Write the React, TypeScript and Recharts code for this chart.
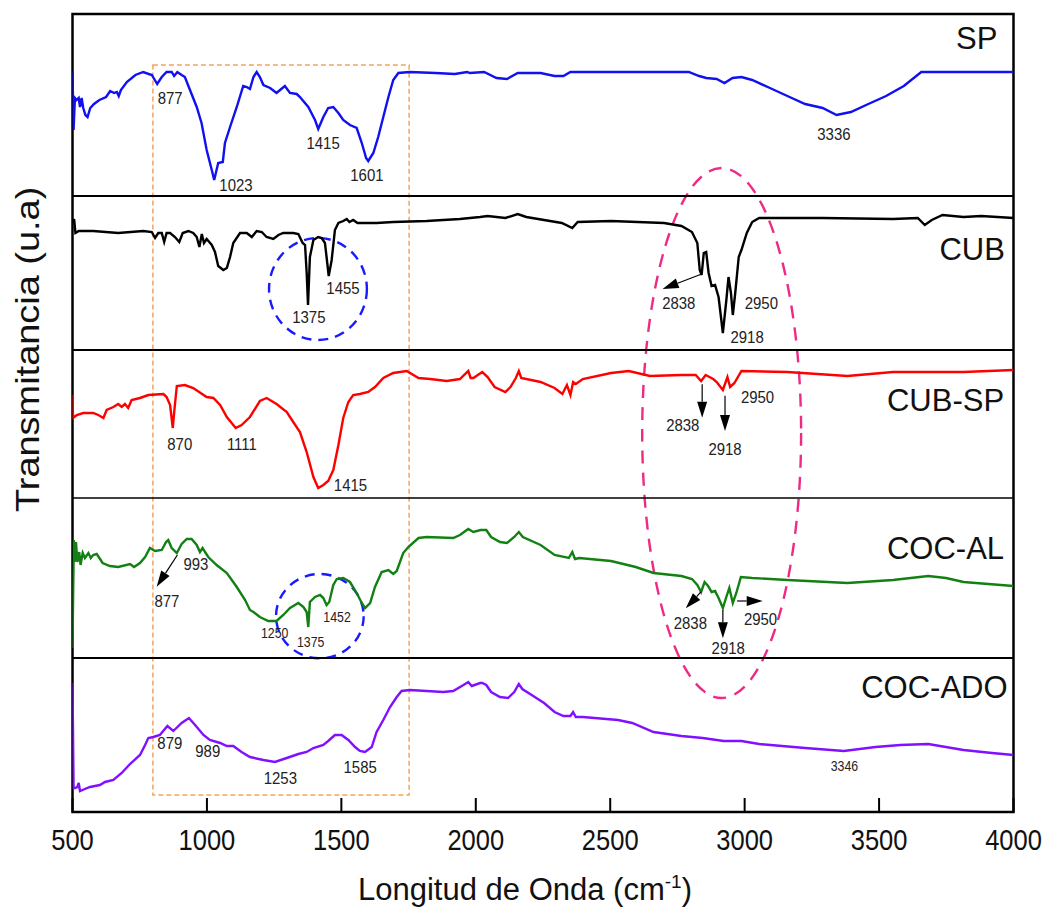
import React from 'react';
import { ComposedChart, Line, XAxis, YAxis, ReferenceLine, ReferenceArea, ReferenceDot, Label } from 'recharts';

type Pt = [number, number];

// wavenumber (cm-1) -> transmittance (u.a., relative to each panel)
const SP: Pt[] = [[500,124],[504,66],[509,98],[515,96],[523,98],[528,89],[534,98],[540,88],[548,81],[556,79],[566,88],[580,92],[600,96],[625,99],[640,105],[655,103],[665,104],[672,100],[680,106],[702,114],[734,121],[763,124],[795,121],[815,112],[832,119],[850,124],[869,124],[878,120],[890,124],[906,121],[918,119],[937,106],[962,89],[980,73],[999,46],[1018,26],[1027,16],[1042,33],[1059,34],[1067,53],[1086,69],[1111,89],[1135,110],[1148,109],[1160,107],[1173,119],[1185,124],[1197,119],[1210,111],[1235,108],[1259,103],[1272,106],[1290,110],[1309,103],[1334,102],[1346,99],[1377,89],[1402,76],[1414,67],[1433,79],[1451,88],[1470,89],[1489,83],[1507,76],[1532,71],[1557,68],[1576,53],[1592,38],[1600,35],[1619,43],[1637,59],[1656,79],[1675,99],[1693,116],[1712,123],[1755,124],[1850,123],[1922,122],[1968,124],[1978,123],[2031,124],[2077,118],[2116,117],[2156,123],[2241,123],[2293,120],[2326,120],[2352,124],[2634,124],[2792,124],[2831,120],[2857,118],[2896,117],[2925,113],[2955,118],[2988,119],[3028,116],[3094,108],[3159,100],[3225,92],[3290,88],[3342,81],[3395,84],[3460,92],[3526,100],[3592,110],[3657,124],[3814,124],[4000,124]];

const CUB: Pt[] = [[500,127],[506,131],[511,117],[523,119],[577,119],[670,117],[763,119],[795,118],[807,112],[819,117],[832,117],[841,108],[850,117],[863,117],[881,113],[897,108],[910,117],[931,119],[949,117],[962,113],[972,103],[981,116],[989,107],[999,111],[1018,105],[1030,98],[1042,84],[1061,80],[1074,82],[1086,93],[1098,107],[1123,117],[1148,117],[1167,113],[1185,119],[1204,118],[1222,113],[1247,111],[1266,115],[1284,117],[1321,117],[1340,116],[1356,107],[1365,105],[1371,77],[1376,45],[1383,93],[1396,110],[1414,113],[1427,112],[1439,107],[1445,93],[1453,74],[1464,90],[1476,120],[1489,127],[1507,129],[1520,131],[1530,128],[1544,130],[1560,127],[1582,127],[1631,127],[1693,128],[1817,129],[1941,131],[2016,133],[2044,134],[2110,132],[2156,136],[2188,133],[2320,127],[2359,122],[2379,128],[2503,129],[2700,127],[2765,124],[2804,118],[2824,107],[2833,80],[2840,75],[2848,97],[2857,98],[2866,77],[2877,64],[2890,65],[2903,53],[2919,17],[2932,50],[2940,73],[2949,57],[2956,35],[2965,57],[2978,93],[2988,100],[3008,117],[3028,128],[3054,132],[3290,132],[3552,131],[3644,132],[3670,125],[3696,130],[3736,135],[3814,133],[3880,134],[4000,132]];

const CUB_SP: Pt[] = [[500,103],[502,80],[516,83],[540,85],[577,85],[596,83],[615,80],[627,88],[652,91],[670,94],[683,91],[695,94],[707,90],[720,98],[751,100],[782,103],[838,104],[850,101],[863,93],[873,70],[879,88],[888,112],[918,113],[949,110],[999,101],[1024,100],[1049,93],[1074,81],[1107,70],[1129,73],[1160,81],[1197,97],[1222,100],[1259,94],[1297,86],[1321,76],[1346,66],[1371,46],[1396,21],[1414,10],[1433,13],[1451,17],[1470,28],[1489,53],[1507,80],[1526,96],[1544,103],[1569,104],[1600,106],[1625,111],[1656,120],[1693,125],[1743,127],[1787,120],[1830,119],[1892,117],[1941,119],[1972,127],[1981,120],[1991,120],[2024,126],[2044,121],[2070,111],[2110,106],[2129,111],[2149,120],[2160,127],[2169,120],[2241,116],[2293,110],[2322,104],[2339,113],[2352,103],[2362,116],[2372,114],[2398,119],[2503,125],[2569,127],[2648,122],[2765,123],[2818,123],[2838,117],[2855,123],[2883,119],[2896,116],[2919,108],[2936,121],[2946,111],[2962,115],[2988,127],[3159,126],[3382,122],[3552,126],[3814,126],[4000,128]];

const COC_AL: Pt[] = [[500,10],[502,55],[505,118],[508,96],[513,116],[518,96],[525,106],[530,93],[538,105],[546,100],[559,105],[568,100],[577,103],[590,104],[600,100],[612,95],[639,92],[670,91],[714,94],[729,91],[751,95],[770,101],[788,110],[807,107],[832,108],[848,116],[856,118],[869,110],[888,105],[906,114],[925,119],[943,119],[962,113],[974,106],[984,110],[993,106],[1005,101],[1036,93],[1074,85],[1111,71],[1142,58],[1160,48],[1173,46],[1197,41],[1228,37],[1259,37],[1284,43],[1309,50],[1340,55],[1359,51],[1371,46],[1377,31],[1383,56],[1402,61],[1421,63],[1433,60],[1445,53],[1455,56],[1470,73],[1483,79],[1507,80],[1532,76],[1557,65],[1576,55],[1588,50],[1607,55],[1625,71],[1650,86],[1675,88],[1693,84],[1706,87],[1730,105],[1749,111],[1787,120],[1817,121],[1916,120],[1941,123],[1972,129],[1991,126],[2018,128],[2039,128],[2057,121],[2090,116],[2116,115],[2143,121],[2160,126],[2175,121],[2241,113],[2293,103],[2346,100],[2359,106],[2369,99],[2385,100],[2503,97],[2595,91],[2661,85],[2765,82],[2804,79],[2824,73],[2838,66],[2851,76],[2864,72],[2877,66],[2890,67],[2903,60],[2919,50],[2933,62],[2943,70],[2956,55],[2969,65],[2986,81],[3028,80],[3159,78],[3382,75],[3552,78],[3683,82],[3749,80],[3814,76],[3906,74],[4000,72]];

const COC_ADO: Pt[] = [[500,129],[504,24],[509,24],[518,25],[523,29],[528,21],[546,23],[565,25],[602,27],[621,30],[652,32],[683,39],[714,48],[751,57],[770,67],[782,74],[801,75],[825,77],[853,86],[875,81],[906,89],[933,94],[956,87],[987,77],[1011,72],[1049,69],[1074,66],[1098,66],[1129,60],[1160,55],[1210,52],[1253,50],[1297,54],[1340,58],[1371,60],[1396,64],[1433,67],[1451,71],[1476,77],[1501,77],[1526,72],[1551,65],[1569,61],[1588,60],[1613,65],[1631,80],[1656,92],[1681,105],[1706,115],[1724,121],[1755,122],[1817,121],[1879,120],[1916,121],[1954,127],[1972,130],[1985,126],[2016,129],[2024,129],[2039,127],[2057,120],[2090,115],[2120,114],[2143,120],[2160,128],[2173,123],[2202,118],[2254,109],[2293,100],[2326,96],[2352,96],[2362,100],[2372,95],[2398,95],[2529,92],[2582,89],[2661,80],[2765,76],[2844,74],[2922,71],[2988,71],[3054,68],[3225,64],[3369,61],[3487,65],[3579,67],[3683,68],[3814,62],[3920,59],[4000,57]];

const X_TICKS = [500, 1000, 1500, 2000, 2500, 3000, 3500, 4000];
const PANEL_NAMES = ['SP', 'CUB', 'CUB-SP', 'COC-AL', 'COC-ADO'];
const PANEL_OFFSETS = [616, 462, 314, 154, 0];
const PANEL_DIVIDERS = [616, 462, 314, 154];
const PANEL_NAME_X = [3940, 3968, 3965, 3965, 3978];
const PANEL_NAME_Y = [147, 90, 87, 99, 114];

// peak labels: [panel index, wavenumber, value, text, small]
const PEAKS: [number, number, number, string, boolean][] = [
  [0, 863, 98.5, '877', false], [0, 1108, 11, '1023', false], [0, 1432, 53, '1415', false], [0, 1595, 21, '1601', false], [0, 3332, 62, '3336', false],
  [1, 1379, 33, '1375', false], [1, 1506, 62, '1455', false], [1, 2755, 47, '2838', false], [1, 3062, 47, '2950', false], [1, 3009, 13, '2918', false],
  [2, 899, 54, '870', false], [2, 1130, 54, '1111', false], [2, 1534, 13, '1415', false], [2, 2770, 73.5, '2838', false], [2, 3048, 101, '2950', false], [2, 2927, 49, '2918', false],
  [3, 959, 94, '993', false], [3, 851, 57.5, '877', false], [3, 1252, 24.7, '1250', true], [3, 1386, 16.5, '1375', true], [3, 1484, 40.7, '1452', true], [3, 2798, 34.7, '2838', false], [3, 3059, 39.3, '2950', false], [3, 2939, 9.7, '2918', false],
  [4, 862, 69, '879', false], [4, 1003, 61.5, '989', false], [4, 1273, 34, '1253', false], [4, 1570, 45, '1585', false], [4, 3371, 46, '3346', true],
];

// arrows: [panel, x1, y1, x2, y2] (tail -> head)
const ARROWS: [number, number, number, number, number][] = [
  [1, 2838, 75.7, 2695, 61],
  [2, 2842, 113.7, 2842, 80.3],
  [2, 2927, 102.3, 2927, 67],
  [3, 890, 103, 813, 71.3],
  [3, 2838, 66.3, 2781, 49.7],
  [3, 2919, 48, 2919, 19.7],
  [3, 2972, 57, 3067, 57],
];

const COLORS = ['#1010f0', '#000000', '#ff0000', '#138013', '#8010ff'];
const SPECTRA = [SP, CUB, CUB_SP, COC_AL, COC_ADO];

const FONT = "'Liberation Sans', Arial, Helvetica, sans-serif";

const Tick = (props: any) => {
  const { x, y, payload } = props;
  return (
    <g>
      <line x1={x} y1={y} x2={x} y2={y - 14} stroke="#000" strokeWidth={2} />
      <text transform={`translate(${x},${y + 38}) scale(0.88,1)`} textAnchor="middle" fontSize={29} fill="#111" fontFamily={FONT}>
        {payload.value}
      </text>
    </g>
  );
};

const XTitle = (props: any) => {
  const { viewBox } = props;
  const cx = viewBox.x + viewBox.width / 2 - 18;
  return (
    <text x={cx} y={viewBox.y + 88} textAnchor="middle" fontSize={31} fill="#111" fontFamily={FONT}>
      Longitud de Onda (cm<tspan dy={-12} fontSize={19}>-1</tspan><tspan dy={12}>)</tspan>
    </text>
  );
};

const YTitle = (props: any) => {
  const { viewBox } = props;
  const x = viewBox.x + 31;
  const y = viewBox.y + 498;
  return (
    <text transform={`translate(${x},${y}) rotate(-90) scale(1.15,1)`} textAnchor="start" fontSize={33} fill="#111" fontFamily={FONT}>
      Transmitancia (u.a)
    </text>
  );
};

const arrowShape = (props: any) => {
  const { x1, y1, x2, y2 } = props;
  const dx = x2 - x1, dy = y2 - y1;
  const len = Math.sqrt(dx * dx + dy * dy) || 1;
  const ux = dx / len, uy = dy / len;
  const hl = 16, hw = 5;
  const bx = x2 - ux * hl, by = y2 - uy * hl;
  const p1 = `${x2},${y2}`;
  const p2 = `${bx - uy * hw},${by + ux * hw}`;
  const p3 = `${bx + uy * hw},${by - ux * hw}`;
  return (
    <g>
      <line x1={x1} y1={y1} x2={bx} y2={by} stroke="#000" strokeWidth={1.2} />
      <polygon points={`${p1} ${p2} ${p3}`} fill="#000" />
    </g>
  );
};

const ellipseShape = (stroke: string, dash: string, width: number) => (props: any) => {
  const { x, y, width: w, height: h } = props;
  return (
    <ellipse cx={x + w / 2} cy={y + h / 2} rx={Math.abs(w) / 2} ry={Math.abs(h) / 2} fill="none" stroke={stroke} strokeWidth={width} strokeDasharray={dash} />
  );
};

const peakShape = (text: string, small: boolean) => (props: any) => {
  const { cx, cy } = props;
  return (
    <text transform={`translate(${cx},${cy}) scale(0.88,1)`} dy="0.36em" textAnchor="middle" fontSize={small ? 14 : 17} fill="#222" fontFamily={FONT}>
      {text}
    </text>
  );
};

const nameShape = (text: string) => (props: any) => {
  const { cx, cy } = props;
  return (
    <text x={cx} y={cy} textAnchor="end" fontSize={31} fill="#111" fontFamily={FONT}>
      {text}
    </text>
  );
};

export default function App() {
  return (
    <div style={{ width: 1038, height: 899, padding: '8px 0 0 8px' }}>
      <style>{'html,body{margin:0;overflow:hidden} .recharts-surface{overflow:visible}'}</style>
      <ComposedChart width={1038} height={899} margin={{ top: 6, right: 32.5, bottom: 0, left: 0 }}>
        <XAxis
          type="number"
          dataKey="x"
          domain={[500, 4000]}
          ticks={X_TICKS}
          allowDataOverflow
          height={95}
          axisLine={false}
          tickLine={false}
          tickSize={0}
          tickMargin={0}
          tick={<Tick />}
          interval={0}
        >
          <Label content={<XTitle />} />
        </XAxis>
        <YAxis type="number" domain={[0, 798]} width={64.5} tick={false} axisLine={false} tickLine={false} allowDataOverflow>
          <Label content={<YTitle />} />
        </YAxis>

        {PANEL_DIVIDERS.map((v, i) => (
          <ReferenceLine key={'d' + i} y={v} stroke="#000" strokeWidth={i === 2 ? 1.4 : 2.2} />
        ))}

        {SPECTRA.map((pts, i) => (
          <Line
            key={PANEL_NAMES[i]}
            data={pts.map(([x, y]) => ({ x, y: y + PANEL_OFFSETS[i] }))}
            dataKey="y"
            type="linear"
            dot={false}
            stroke={COLORS[i]}
            strokeWidth={2.4}
            isAnimationActive={false}
          />
        ))}

        <ReferenceArea x1={799} x2={1752} y1={17} y2={747} fill="none" stroke="#f5a35c" strokeWidth={1.5} strokeDasharray="5 3" />
        <ReferenceArea x1={2619} x2={3210} y1={114} y2={644} shape={ellipseShape('#ee2a85', '13 9', 2.4)} />
        <ReferenceArea x1={1231} x2={1595} y1={472} y2={574} shape={ellipseShape('#1a1aff', '10 7', 2.4)} />
        <ReferenceArea x1={1257} x2={1583} y1={153.7} y2={238} shape={ellipseShape('#1a1aff', '10 7', 2.4)} />

        {ARROWS.map(([p, x1, y1, x2, y2], i) => (
          <ReferenceLine
            key={'a' + i}
            segment={[{ x: x1, y: y1 + PANEL_OFFSETS[p] }, { x: x2, y: y2 + PANEL_OFFSETS[p] }]}
            shape={arrowShape}
          />
        ))}

        {PEAKS.map(([p, x, y, t, s], i) => (
          <ReferenceDot key={'p' + i} x={x} y={y + PANEL_OFFSETS[p]} r={0} shape={peakShape(t, s)} />
        ))}

        {PANEL_NAMES.map((n, i) => (
          <ReferenceDot key={'n' + i} x={PANEL_NAME_X[i]} y={PANEL_NAME_Y[i] + PANEL_OFFSETS[i]} r={0} shape={nameShape(n)} />
        ))}

        <ReferenceArea x1={500} x2={4000} y1={0} y2={798} fill="none" stroke="#000" strokeWidth={2.5} />
      </ComposedChart>
    </div>
  );
}
